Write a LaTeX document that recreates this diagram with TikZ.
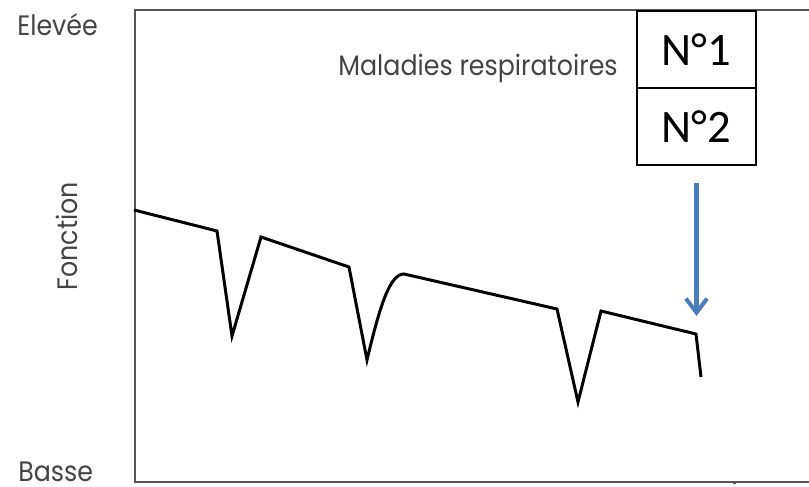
\documentclass[tikz,border=0pt]{standalone}
\usepackage{fontspec}
\usetikzlibrary{positioning, arrows.meta}
\newfontfamily\labelfont[FakeStretch=0.9]{Poppins}
\newfontfamily\boxfont{Carlito}
\definecolor{xgrey}{HTML}{555555}
\definecolor{xtext}{HTML}{444444}
\definecolor{xblue}{HTML}{4A7EBB}
\tikzset{
	axis/.style = {xgrey, line width=1.1pt},
	curve/.style = {black, line width=1.7pt, line join=miter},
	axislabel/.style = {xtext, inner sep=0pt, font=\labelfont\fontsize{16}{18}\selectfont},
	stage/.style = {draw, line width=1.1pt, outer sep=0pt, minimum width=2.38cm, minimum height=1.54cm, font=\boxfont\fontsize{26.5}{28}\selectfont},
	marker/.style = {#1, line width=2.3pt, -{Straight Barb[length=8pt, width=12pt]}},
}

\begin{document}
\begin{tikzpicture}[x=0.02cm, y=-0.02cm]
	\useasboundingbox (0,0) rectangle (809,487);
	\draw[axis] (809,10) -- (135,10) -- (135,482) -- (809,482);
	\fill[xgrey] (732.5,480.5) rectangle (735.5,483.5);
	\node[axislabel, anchor=base west] (high) at (17,35) {Elevée};
	\node[axislabel, anchor=base west] (low) at (18,481) {Basse};
	\node[axislabel, rotate=90] (func) at (67,236) {Fonction};
	\node[axislabel, anchor=base west] (disease) at (338,75) {Maladies respiratoires};
	\node[stage] (n1) at (696.5,49.5) {N°1};
	\node[stage, below=0pt of n1] (n2) {N°2};
	\coordinate (tail) at (696.5,183);
	\coordinate (tip) at (696.5,316);
	\draw[marker=xblue] (tail) -- (tip);
	\draw[curve] (134,210) -- (217,231) -- (232,336) -- (261,237) -- (349,267) -- (367,360)
		.. controls (380,305) and (390,274) .. (404,274) -- (557,309) -- (578,402) -- (601,311) -- (696,334) -- (701,377);
\end{tikzpicture}
\end{document}
